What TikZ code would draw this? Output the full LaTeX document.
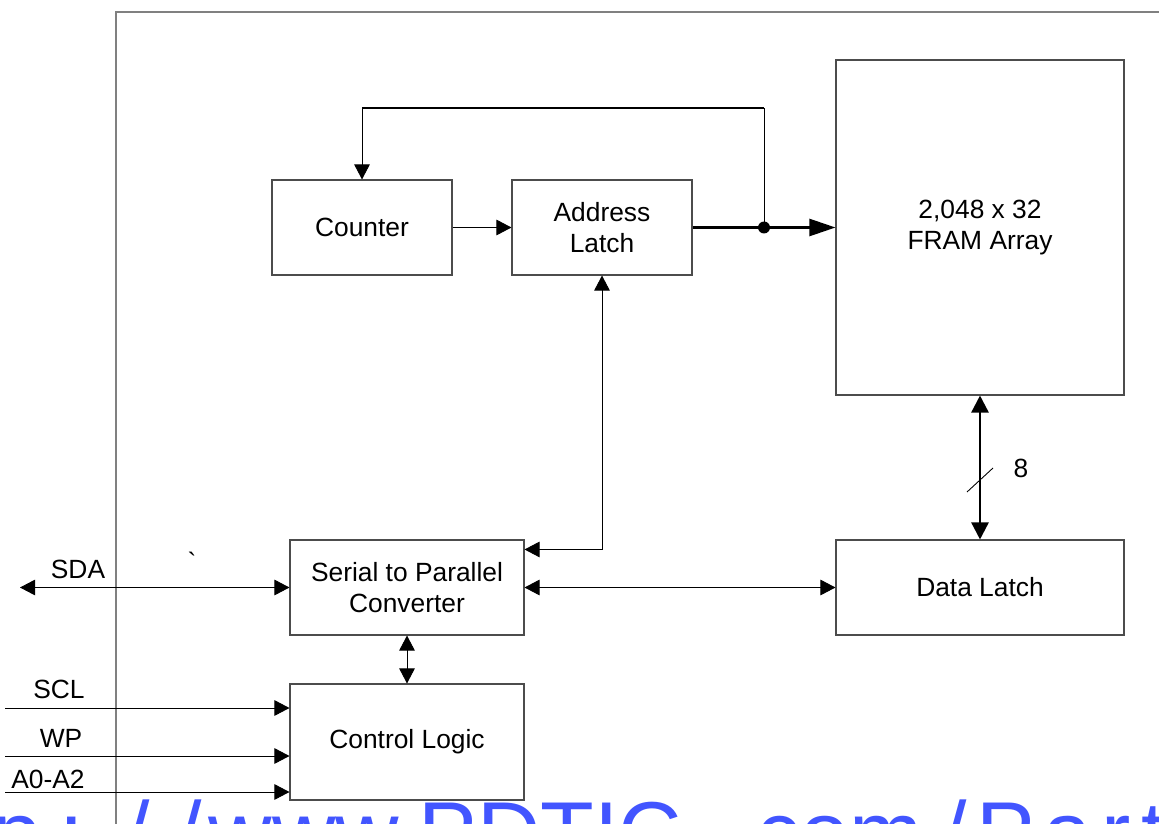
\documentclass[tikz,border=0pt]{standalone}
\usepackage{fontspec}
\newfontfamily\labelfont{Liberation Sans}[Ligatures=TeXOff]
\usetikzlibrary{positioning,arrows.meta,calc}
\definecolor{wmblue}{RGB}{66,85,255}

\begin{document}
\begin{tikzpicture}[x=0.2mm, y=-0.2mm,
  font=\labelfont\fontsize{15}{18}\selectfont,
  block/.style={draw=black!70, line width=0.6pt, align=center, inner sep=0pt},
  wire/.style={line width=0.5pt},
  bus/.style={line width=1.4pt},
  >={Triangle[length=3mm, width=3.1mm]}]

\useasboundingbox (0,0) rectangle (1159,824);

% chip outline
\draw[gray, line width=0.8pt] (116,830) -- (116,12) -- (1170,12);

\node[block, minimum width=36mm, minimum height=19mm] (counter) at (362,227.5) {Counter};
\node[block, minimum width=36mm, minimum height=19mm] (addr) at (602,227.5) {Address\\Latch};
\node[block, minimum width=57.6mm, minimum height=67mm] (fram) at (980,227.5) {2,048 x 32\\FRAM Array};
\node[block, minimum width=57.6mm, minimum height=19mm] (data) at (980,587.5) {Data Latch};
\node[block, minimum width=46.8mm, minimum height=19mm] (conv) at (407,587.5) {Serial to Parallel\\Converter};
\node[block, minimum width=46.8mm, minimum height=23.2mm] (ctrl) at (407,742) {Control Logic};

% address path
\draw[wire, ->] (counter) -- (addr);
\coordinate (tap) at (764,227.5);
\draw[bus, -{Triangle[length=5.2mm, width=3.4mm]}] (addr) -- (fram.west |- addr);
\fill (tap) circle (1.2mm);
\coordinate (loopR) at (764,108);
\coordinate (loopL) at (counter.north |- loopR);
\draw[wire] (tap) -- (loopR);
\draw[bus] (loopR) -- (loopL);
\draw[wire, ->] (loopL) -- (counter.north);
\coordinate (convin) at ($(conv.north east)+(0,10)$);
\draw[wire, <->] (addr.south) |- (convin);

% data path
\draw[bus, {Triangle[length=3.4mm, width=3.4mm]}-{Triangle[length=3.4mm, width=3.4mm]}] (fram) -- (data);
\draw[wire] (967,492) -- (993,468);
\node[anchor=base] (buswidth) at (1021,477) {8};
\draw[wire, <->] (conv) -- (data);
\draw[wire, <->] (conv) -- (ctrl);

% pins
\coordinate (sda) at (20,587.5);
\coordinate (scl) at (5,708);
\coordinate (wp) at (5,756);
\coordinate (addrpins) at (5,792);
\draw[wire, <->] (sda) -- (conv.west);
\draw[wire, ->] (scl) -- (scl -| ctrl.west);
\draw[wire, ->] (wp) -- (wp -| ctrl.west);
\draw[wire, ->] (addrpins) -- (addrpins -| ctrl.west);

\node[anchor=base] (sdalbl) at (78,578) {SDA};
\node[anchor=base] (scllbl) at (59,698) {SCL};
\node[anchor=base] (wplbl) at (61,747) {WP};
\node[anchor=base] (addrlbl) at (48,788) {A0-A2};
\node[anchor=base] (tick) at (192,571) {`};

% watermark
\node[anchor=base west, inner sep=0pt, text=wmblue, font=\labelfont\fontsize{50}{60}\selectfont] (wm) at (-106,863)
  {http\hspace{3.8mm}:\hspace{8.3mm}/\hspace{5.5mm}/\hspace{1.3mm}www.PDTIC\hspace{10mm}.com\hspace{4mm}/\hspace{2mm}P\hspace{1.5mm}a\hspace{2mm}r\hspace{2mm}t};

\end{tikzpicture}
\end{document}
